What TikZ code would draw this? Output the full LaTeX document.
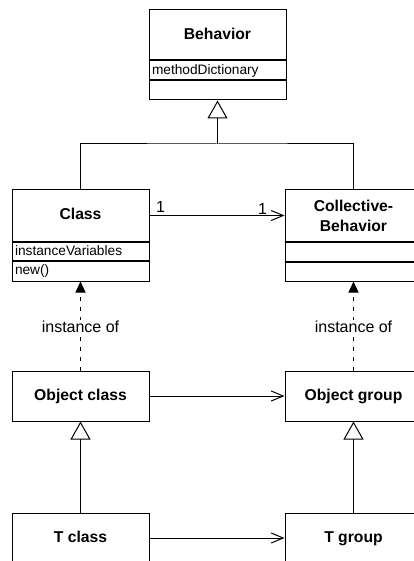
\documentclass[tikz,border=0pt]{standalone}
\usepackage{fontspec}
\setmainfont{Liberation Sans}
\usetikzlibrary{arrows.meta}
\begin{document}
\begin{tikzpicture}[x=1pt,y=-1pt,line width=1pt,
  titlebox/.style={draw,rectangle,minimum width=137pt,inner sep=0pt,
    font=\fontsize{15.7}{20}\selectfont\bfseries,align=center},
  oneline/.style={text height=11.5pt,text depth=3.2pt},
  compbox/.style={draw,rectangle,minimum width=137pt,inner sep=0pt,
    font=\fontsize{13.7}{16}\selectfont,text width=131pt,align=left},
  lbl/.style={font=\fontsize{16}{18}\selectfont,inner sep=1pt},
  inherit/.style={-{Triangle[open,length=18pt,width=20pt,fill=white]}},
  assoc/.style={-{Straight Barb[length=12pt,width=10pt]}},
  inst/.style={dash pattern=on 4pt off 6pt,-{Triangle[length=11pt,width=10pt]}}]
\useasboundingbox (0,0) rectangle (414,561);
\clip (0,0) rectangle (414,561);
% Behavior
\node[titlebox,oneline,minimum height=50pt] (beh) at (217.5,35) {Behavior};
\node[compbox,minimum height=19pt,anchor=north] (behA) at (beh.south) {methodDictionary};
\node[compbox,minimum height=19pt,anchor=north] (behM) at (behA.south) {};
% Class
\node[titlebox,oneline,minimum height=51pt] (cls) at (80.5,215.5) {Class};
\node[compbox,minimum height=18pt,anchor=north] (clsA) at (cls.south) {instanceVariables};
\node[compbox,minimum height=20pt,anchor=north] (clsM) at (clsA.south) {new()};
% Collective-Behavior
\node[titlebox,minimum height=51pt] (cb) at (353.5,215.5) {Collective-\\Behavior};
\node[compbox,minimum height=19pt,anchor=north] (cbA) at (cb.south) {};
\node[compbox,minimum height=19pt,anchor=north] (cbM) at (cbA.south) {};
% Object level
\node[titlebox,oneline,minimum height=50pt] (ocls) at (80.5,396) {Object class};
\node[titlebox,oneline,minimum height=50pt] (ogrp) at (353.5,396) {Object group};
% T level
\node[titlebox,oneline,minimum height=50pt] (tcls) at (80.5,538) {T class};
\node[titlebox,oneline,minimum height=50pt] (tgrp) at (353.5,538) {T group};
% inheritance to Behavior
\coordinate (junc) at (217.5,144);
\draw (cls.north) |- (junc) -| (cb.north);
\draw[inherit] (junc) -- (behM.south);
% association
\draw[assoc] (cls.east) -- (cb.west);
\node[lbl,anchor=south west] (m1) at ([xshift=5pt,yshift=2pt]cls.east) {1};
\node[lbl,anchor=south east] (m2) at ([xshift=-16pt,yshift=0pt]cb.west) {1};
% instance of
\draw[inst] (ocls.north) -- node[pos=0.49,lbl,fill=white] (i1) {instance of} (clsM.south);
\draw[inst] (ogrp.north) -- node[pos=0.49,lbl,fill=white] (i2) {instance of} (cbM.south);
% object level association
\draw[assoc] (ocls.east) -- (ogrp.west);
\draw[assoc] (tcls.east) -- (tgrp.west);
% inheritance bottom
\draw[inherit] (tcls.north) -- (ocls.south);
\draw[inherit] (tgrp.north) -- (ogrp.south);
\end{tikzpicture}
\end{document}
